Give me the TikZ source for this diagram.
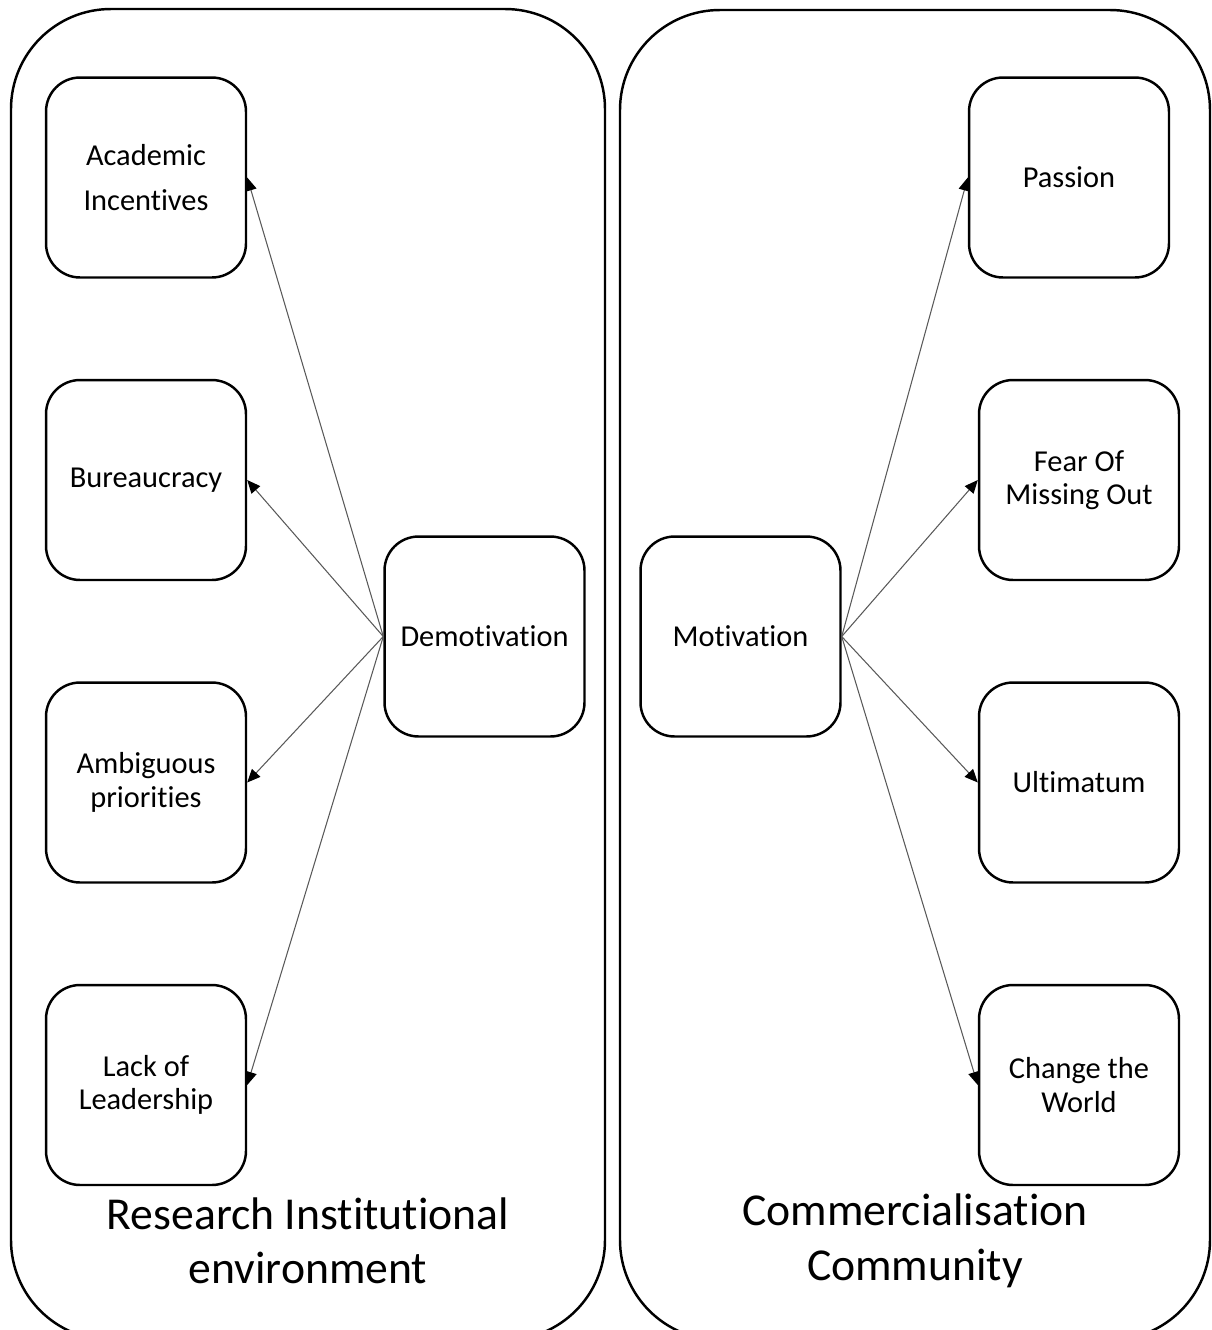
\documentclass[tikz,border=0pt]{standalone}
\usepackage{fontspec}
\setmainfont[Ligatures={NoCommon}]{Carlito}
\usetikzlibrary{arrows.meta}
\begin{document}
\begin{tikzpicture}[x=0.02cm,y=-0.02cm,
  box/.style={draw, line width=1.4pt, rounded corners=0.68cm, minimum width=4.0cm, minimum height=4.0cm, align=center, inner sep=0pt, font=\fontsize{17.3}{19}\selectfont},
  wide/.style={font=\fontsize{17.3}{26}\selectfont},
  region/.style={draw, line width=1.4pt, rounded corners=2cm},
  biglabel/.style={align=center, font=\fontsize{26}{31}\selectfont},
  conn/.style={draw=black!65, line width=0.6pt, -{Triangle[length=7.5pt,width=6.5pt,fill=black,color=black]}}]
\clip (0,0) rectangle (1212,1330);
\useasboundingbox (0,0) rectangle (1212,1330);
\draw[region] (11,9) rectangle (605,1340);
\draw[region] (620,10) rectangle (1210,1340);
\node[box,wide] (acad) at (146,177.5) {Academic\\Incentives};
\node[box] (bur) at (146,480) {Bureaucracy};
\node[box] (amb) at (146,782.5) {Ambiguous\\priorities};
\node[box] (lack) at (146,1085) {Lack of\\Leadership};
\node[box] (demo) at (484.5,636.5) {Demotivation};
\node[box] (moti) at (740.5,636.5) {Motivation};
\node[box] (pass) at (1069,177.5) {Passion};
\node[box] (fear) at (1079,480) {Fear Of\\Missing Out};
\node[box] (ulti) at (1079,782.5) {Ultimatum};
\node[box] (chan) at (1079,1085) {Change the\\World};
\node[biglabel] (lreg) at (308,1241) {Research Institutional\\environment};
\node[biglabel] (rreg) at (915,1241) {Commercialisation\\Community};
\draw[conn] (demo.west) -- (acad.east);
\draw[conn] (demo.west) -- (bur.east);
\draw[conn] (demo.west) -- (amb.east);
\draw[conn] (demo.west) -- (lack.east);
\draw[conn] (moti.east) -- (pass.west);
\draw[conn] (moti.east) -- (fear.west);
\draw[conn] (moti.east) -- (ulti.west);
\draw[conn] (moti.east) -- (chan.west);
\end{tikzpicture}
\end{document}
